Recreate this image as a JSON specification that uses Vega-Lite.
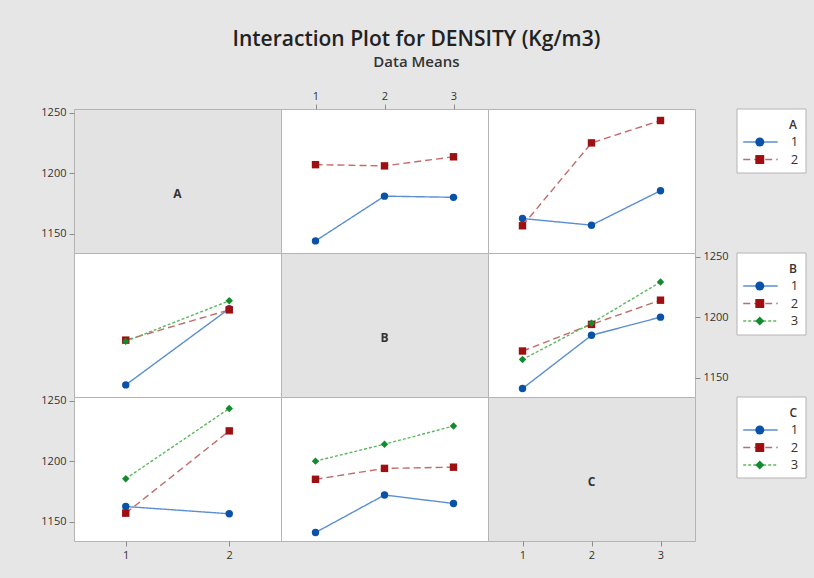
{
  "$schema": "https://vega.github.io/schema/vega-lite/v6.json",
  "background": "#e6e6e6",
  "padding": {"left": 40, "top": 28, "right": 9, "bottom": 18},
  "title": {
    "text": "Interaction Plot for DENSITY (Kg/m3)",
    "subtitle": "Data Means",
    "anchor": "middle",
    "font": "Open Sans",
    "fontSize": 21,
    "fontWeight": 600,
    "color": "#222222",
    "subtitleFont": "Open Sans",
    "subtitleFontSize": 15,
    "subtitleFontWeight": 600,
    "subtitleColor": "#333333",
    "subtitlePadding": 5,
    "offset": 20,
    "dx": -7
  },
  "config": {
    "view": {"stroke": "#b4b4b4", "fill": "white", "strokeWidth": 1},
    "axis": {
      "domain": false,
      "grid": false,
      "tickSize": 5,
      "tickColor": "#8c8c8c",
      "labelPadding": 3,
      "labelFont": "Open Sans",
      "labelFontSize": 11,
      "labelColor": "#333333",
      "title": null,
      "format": "d"
    },
    "text": {"font": "Open Sans"}
  },
  "datasets": {
    "means": [
      {"p": "AB", "t": "1", "x": 1, "y": 1144}, {"p": "AB", "t": "1", "x": 2, "y": 1181}, {"p": "AB", "t": "1", "x": 3, "y": 1180},
      {"p": "AB", "t": "2", "x": 1, "y": 1207}, {"p": "AB", "t": "2", "x": 2, "y": 1206}, {"p": "AB", "t": "2", "x": 3, "y": 1213.5},
      {"p": "AC", "t": "1", "x": 1, "y": 1162.5}, {"p": "AC", "t": "1", "x": 2, "y": 1157}, {"p": "AC", "t": "1", "x": 3, "y": 1185.5},
      {"p": "AC", "t": "2", "x": 1, "y": 1156.5}, {"p": "AC", "t": "2", "x": 2, "y": 1225}, {"p": "AC", "t": "2", "x": 3, "y": 1243.5},
      {"p": "BA", "t": "1", "x": 1, "y": 1144}, {"p": "BA", "t": "1", "x": 2, "y": 1207},
      {"p": "BA", "t": "2", "x": 1, "y": 1181}, {"p": "BA", "t": "2", "x": 2, "y": 1206},
      {"p": "BA", "t": "3", "x": 1, "y": 1180}, {"p": "BA", "t": "3", "x": 2, "y": 1213.5},
      {"p": "BC", "t": "1", "x": 1, "y": 1141}, {"p": "BC", "t": "1", "x": 2, "y": 1185}, {"p": "BC", "t": "1", "x": 3, "y": 1200},
      {"p": "BC", "t": "2", "x": 1, "y": 1172}, {"p": "BC", "t": "2", "x": 2, "y": 1194}, {"p": "BC", "t": "2", "x": 3, "y": 1214},
      {"p": "BC", "t": "3", "x": 1, "y": 1165}, {"p": "BC", "t": "3", "x": 2, "y": 1195}, {"p": "BC", "t": "3", "x": 3, "y": 1229},
      {"p": "CA", "t": "1", "x": 1, "y": 1162.5}, {"p": "CA", "t": "1", "x": 2, "y": 1156.5},
      {"p": "CA", "t": "2", "x": 1, "y": 1157}, {"p": "CA", "t": "2", "x": 2, "y": 1225},
      {"p": "CA", "t": "3", "x": 1, "y": 1185.5}, {"p": "CA", "t": "3", "x": 2, "y": 1243.5},
      {"p": "CB", "t": "1", "x": 1, "y": 1141}, {"p": "CB", "t": "1", "x": 2, "y": 1172}, {"p": "CB", "t": "1", "x": 3, "y": 1165},
      {"p": "CB", "t": "2", "x": 1, "y": 1185}, {"p": "CB", "t": "2", "x": 2, "y": 1194}, {"p": "CB", "t": "2", "x": 3, "y": 1195},
      {"p": "CB", "t": "3", "x": 1, "y": 1200}, {"p": "CB", "t": "3", "x": 2, "y": 1214}, {"p": "CB", "t": "3", "x": 3, "y": 1229}
    ],
    "legend": [
      {"g": "A", "t": "1", "pos": 1}, {"g": "A", "t": "2", "pos": 2},
      {"g": "B", "t": "1", "pos": 1}, {"g": "B", "t": "2", "pos": 2}, {"g": "B", "t": "3", "pos": 3},
      {"g": "C", "t": "1", "pos": 1}, {"g": "C", "t": "2", "pos": 2}, {"g": "C", "t": "3", "pos": 3}
    ]
  },
  "columns": 4,
  "spacing": 0,
  "align": "all",
  "bounds": "flush",
  "concat": [
    {
      "width": 207, "height": 144,
      "view": {"fill": "#e3e3e3"},
      "data": {"values": [{"label": "A"}]},
      "mark": {"type": "text", "fontWeight": "bold", "fontSize": 12, "color": "#333333"},
      "encoding": {
        "x": {"datum": 1.5, "type": "quantitative", "scale": {"domain": [0.5, 2.5], "nice": false}, "axis": null},
        "y": {"datum": 1183, "type": "quantitative", "scale": {"domain": [1134, 1253], "nice": false}, "axis": {"orient": "left", "values": [1150, 1200, 1250]}},
        "text": {"field": "label"}
      }
    },
    {
      "width": 207, "height": 144,
      "data": {"name": "means"},
      "transform": [{"filter": "datum.p === 'AB'"}],
      "encoding": {
        "x": {"field": "x", "type": "quantitative", "scale": {"domain": [0.5, 3.5], "nice": false}, "axis": {"orient": "top", "values": [1, 2, 3]}},
        "y": {"field": "y", "type": "quantitative", "scale": {"domain": [1134, 1253], "nice": false}, "axis": null}
      },
      "layer": [
        {"mark": {"type": "line", "strokeWidth": 1.4},
         "encoding": {
           "stroke": {"field": "t", "type": "nominal", "scale": {"domain": ["1", "2", "3"], "range": ["#5b8fd0", "#c46a6a", "#5cb85c"]}, "legend": null},
           "strokeDash": {"field": "t", "type": "nominal", "scale": {"domain": ["1", "2", "3"], "range": [[1, 0], [7, 4], [3, 2]]}, "legend": null}}},
        {"mark": {"type": "point", "filled": true, "size": 55, "opacity": 1},
         "encoding": {
           "fill": {"field": "t", "type": "nominal", "scale": {"domain": ["1", "2", "3"], "range": ["#0a52a8", "#9e0f12", "#138a2e"]}, "legend": null},
           "shape": {"field": "t", "type": "nominal", "scale": {"domain": ["1", "2", "3"], "range": ["circle", "square", "diamond"]}, "legend": null}}}
      ]
    },
    {
      "width": 207, "height": 144,
      "data": {"name": "means"},
      "transform": [{"filter": "datum.p === 'AC'"}],
      "encoding": {
        "x": {"field": "x", "type": "quantitative", "scale": {"domain": [0.5, 3.5], "nice": false}, "axis": null},
        "y": {"field": "y", "type": "quantitative", "scale": {"domain": [1134, 1253], "nice": false}, "axis": null}
      },
      "layer": [
        {"mark": {"type": "line", "strokeWidth": 1.4},
         "encoding": {
           "stroke": {"field": "t", "type": "nominal", "scale": {"domain": ["1", "2", "3"], "range": ["#5b8fd0", "#c46a6a", "#5cb85c"]}, "legend": null},
           "strokeDash": {"field": "t", "type": "nominal", "scale": {"domain": ["1", "2", "3"], "range": [[1, 0], [7, 4], [3, 2]]}, "legend": null}}},
        {"mark": {"type": "point", "filled": true, "size": 55, "opacity": 1},
         "encoding": {
           "fill": {"field": "t", "type": "nominal", "scale": {"domain": ["1", "2", "3"], "range": ["#0a52a8", "#9e0f12", "#138a2e"]}, "legend": null},
           "shape": {"field": "t", "type": "nominal", "scale": {"domain": ["1", "2", "3"], "range": ["circle", "square", "diamond"]}, "legend": null}}}
      ]
    },
    {
      "width": 111, "height": 64,
      "view": {"stroke": null, "fill": null},
      "encoding": {
        "x": {"type": "quantitative", "scale": {"domain": [-0.609, 1], "nice": false}, "axis": null},
        "y": {"type": "quantitative", "scale": {"domain": [-0.886, 2.77], "nice": false, "reverse": true}, "axis": null}
      },
      "layer": [
        {"data": {"values": [{}]}, "mark": {"type": "rect", "fill": "white", "stroke": "#b4b4b4", "strokeWidth": 1},
         "encoding": {"x": {"datum": 0, "type": "quantitative"}, "x2": {"datum": 1}, "y": {"datum": -0.886, "type": "quantitative"}, "y2": {"datum": 2.77}}},
        {"data": {"values": [{"label": "A"}]}, "mark": {"type": "text", "align": "right", "fontSize": 12, "fontWeight": 600, "color": "#333333"},
         "encoding": {"x": {"datum": 0.87, "type": "quantitative"}, "y": {"datum": 0, "type": "quantitative"}, "text": {"field": "label"}}},
        {"data": {"name": "legend"}, "transform": [{"filter": "datum.g === 'A'"}], "mark": {"type": "rule", "strokeWidth": 1.4},
         "encoding": {"x": {"datum": 0.09, "type": "quantitative"}, "x2": {"datum": 0.59}, "y": {"field": "pos", "type": "quantitative"},
           "stroke": {"field": "t", "type": "nominal", "scale": {"domain": ["1", "2", "3"], "range": ["#5b8fd0", "#c46a6a", "#5cb85c"]}, "legend": null},
           "strokeDash": {"field": "t", "type": "nominal", "scale": {"domain": ["1", "2", "3"], "range": [[1, 0], [7, 4], [3, 2]]}, "legend": null}}},
        {"data": {"name": "legend"}, "transform": [{"filter": "datum.g === 'A'"}], "mark": {"type": "point", "filled": true, "size": 80, "opacity": 1},
         "encoding": {"x": {"datum": 0.33, "type": "quantitative"}, "y": {"field": "pos", "type": "quantitative"},
           "fill": {"field": "t", "type": "nominal", "scale": {"domain": ["1", "2", "3"], "range": ["#0a52a8", "#9e0f12", "#138a2e"]}, "legend": null},
           "shape": {"field": "t", "type": "nominal", "scale": {"domain": ["1", "2", "3"], "range": ["circle", "square", "diamond"]}, "legend": null}}},
        {"data": {"name": "legend"}, "transform": [{"filter": "datum.g === 'A'"}], "mark": {"type": "text", "align": "left", "fontSize": 13, "color": "#333333"},
         "encoding": {"x": {"datum": 0.78, "type": "quantitative"}, "y": {"field": "pos", "type": "quantitative"}, "text": {"field": "t"}}}
      ]
    },
    {
      "width": 207, "height": 144,
      "data": {"name": "means"},
      "transform": [{"filter": "datum.p === 'BA'"}],
      "encoding": {
        "x": {"field": "x", "type": "quantitative", "scale": {"domain": [0.5, 2.5], "nice": false}, "axis": null},
        "y": {"field": "y", "type": "quantitative", "scale": {"domain": [1134, 1253], "nice": false}, "axis": null}
      },
      "layer": [
        {"mark": {"type": "line", "strokeWidth": 1.4},
         "encoding": {
           "stroke": {"field": "t", "type": "nominal", "scale": {"domain": ["1", "2", "3"], "range": ["#5b8fd0", "#c46a6a", "#5cb85c"]}, "legend": null},
           "strokeDash": {"field": "t", "type": "nominal", "scale": {"domain": ["1", "2", "3"], "range": [[1, 0], [7, 4], [3, 2]]}, "legend": null}}},
        {"mark": {"type": "point", "filled": true, "size": 55, "opacity": 1},
         "encoding": {
           "fill": {"field": "t", "type": "nominal", "scale": {"domain": ["1", "2", "3"], "range": ["#0a52a8", "#9e0f12", "#138a2e"]}, "legend": null},
           "shape": {"field": "t", "type": "nominal", "scale": {"domain": ["1", "2", "3"], "range": ["circle", "square", "diamond"]}, "legend": null}}}
      ]
    },
    {
      "width": 207, "height": 144,
      "view": {"fill": "#e3e3e3"},
      "data": {"values": [{"label": "B"}]},
      "mark": {"type": "text", "fontWeight": "bold", "fontSize": 12, "color": "#333333"},
      "encoding": {
        "x": {"datum": 2, "type": "quantitative", "scale": {"domain": [0.5, 3.5], "nice": false}, "axis": null},
        "y": {"datum": 1183, "type": "quantitative", "scale": {"domain": [1134, 1253], "nice": false}, "axis": null},
        "text": {"field": "label"}
      }
    },
    {
      "width": 207, "height": 144,
      "data": {"name": "means"},
      "transform": [{"filter": "datum.p === 'BC'"}],
      "encoding": {
        "x": {"field": "x", "type": "quantitative", "scale": {"domain": [0.5, 3.5], "nice": false}, "axis": null},
        "y": {"field": "y", "type": "quantitative", "scale": {"domain": [1134, 1253], "nice": false}, "axis": {"orient": "right", "values": [1150, 1200, 1250]}}
      },
      "layer": [
        {"mark": {"type": "line", "strokeWidth": 1.4},
         "encoding": {
           "stroke": {"field": "t", "type": "nominal", "scale": {"domain": ["1", "2", "3"], "range": ["#5b8fd0", "#c46a6a", "#5cb85c"]}, "legend": null},
           "strokeDash": {"field": "t", "type": "nominal", "scale": {"domain": ["1", "2", "3"], "range": [[1, 0], [7, 4], [3, 2]]}, "legend": null}}},
        {"mark": {"type": "point", "filled": true, "size": 55, "opacity": 1},
         "encoding": {
           "fill": {"field": "t", "type": "nominal", "scale": {"domain": ["1", "2", "3"], "range": ["#0a52a8", "#9e0f12", "#138a2e"]}, "legend": null},
           "shape": {"field": "t", "type": "nominal", "scale": {"domain": ["1", "2", "3"], "range": ["circle", "square", "diamond"]}, "legend": null}}}
      ]
    },
    {
      "width": 111, "height": 82,
      "view": {"stroke": null, "fill": null},
      "encoding": {
        "x": {"type": "quantitative", "scale": {"domain": [-0.609, 1], "nice": false}, "axis": null},
        "y": {"type": "quantitative", "scale": {"domain": [-0.886, 3.8], "nice": false, "reverse": true}, "axis": null}
      },
      "layer": [
        {"data": {"values": [{}]}, "mark": {"type": "rect", "fill": "white", "stroke": "#b4b4b4", "strokeWidth": 1},
         "encoding": {"x": {"datum": 0, "type": "quantitative"}, "x2": {"datum": 1}, "y": {"datum": -0.886, "type": "quantitative"}, "y2": {"datum": 3.8}}},
        {"data": {"values": [{"label": "B"}]}, "mark": {"type": "text", "align": "right", "fontSize": 12, "fontWeight": 600, "color": "#333333"},
         "encoding": {"x": {"datum": 0.87, "type": "quantitative"}, "y": {"datum": 0, "type": "quantitative"}, "text": {"field": "label"}}},
        {"data": {"name": "legend"}, "transform": [{"filter": "datum.g === 'B'"}], "mark": {"type": "rule", "strokeWidth": 1.4},
         "encoding": {"x": {"datum": 0.09, "type": "quantitative"}, "x2": {"datum": 0.59}, "y": {"field": "pos", "type": "quantitative"},
           "stroke": {"field": "t", "type": "nominal", "scale": {"domain": ["1", "2", "3"], "range": ["#5b8fd0", "#c46a6a", "#5cb85c"]}, "legend": null},
           "strokeDash": {"field": "t", "type": "nominal", "scale": {"domain": ["1", "2", "3"], "range": [[1, 0], [7, 4], [3, 2]]}, "legend": null}}},
        {"data": {"name": "legend"}, "transform": [{"filter": "datum.g === 'B'"}], "mark": {"type": "point", "filled": true, "size": 80, "opacity": 1},
         "encoding": {"x": {"datum": 0.33, "type": "quantitative"}, "y": {"field": "pos", "type": "quantitative"},
           "fill": {"field": "t", "type": "nominal", "scale": {"domain": ["1", "2", "3"], "range": ["#0a52a8", "#9e0f12", "#138a2e"]}, "legend": null},
           "shape": {"field": "t", "type": "nominal", "scale": {"domain": ["1", "2", "3"], "range": ["circle", "square", "diamond"]}, "legend": null}}},
        {"data": {"name": "legend"}, "transform": [{"filter": "datum.g === 'B'"}], "mark": {"type": "text", "align": "left", "fontSize": 13, "color": "#333333"},
         "encoding": {"x": {"datum": 0.78, "type": "quantitative"}, "y": {"field": "pos", "type": "quantitative"}, "text": {"field": "t"}}}
      ]
    },
    {
      "width": 207, "height": 144,
      "data": {"name": "means"},
      "transform": [{"filter": "datum.p === 'CA'"}],
      "encoding": {
        "x": {"field": "x", "type": "quantitative", "scale": {"domain": [0.5, 2.5], "nice": false}, "axis": {"orient": "bottom", "values": [1, 2]}},
        "y": {"field": "y", "type": "quantitative", "scale": {"domain": [1134, 1253], "nice": false}, "axis": {"orient": "left", "values": [1150, 1200, 1250]}}
      },
      "layer": [
        {"mark": {"type": "line", "strokeWidth": 1.4},
         "encoding": {
           "stroke": {"field": "t", "type": "nominal", "scale": {"domain": ["1", "2", "3"], "range": ["#5b8fd0", "#c46a6a", "#5cb85c"]}, "legend": null},
           "strokeDash": {"field": "t", "type": "nominal", "scale": {"domain": ["1", "2", "3"], "range": [[1, 0], [7, 4], [3, 2]]}, "legend": null}}},
        {"mark": {"type": "point", "filled": true, "size": 55, "opacity": 1},
         "encoding": {
           "fill": {"field": "t", "type": "nominal", "scale": {"domain": ["1", "2", "3"], "range": ["#0a52a8", "#9e0f12", "#138a2e"]}, "legend": null},
           "shape": {"field": "t", "type": "nominal", "scale": {"domain": ["1", "2", "3"], "range": ["circle", "square", "diamond"]}, "legend": null}}}
      ]
    },
    {
      "width": 207, "height": 144,
      "data": {"name": "means"},
      "transform": [{"filter": "datum.p === 'CB'"}],
      "encoding": {
        "x": {"field": "x", "type": "quantitative", "scale": {"domain": [0.5, 3.5], "nice": false}, "axis": null},
        "y": {"field": "y", "type": "quantitative", "scale": {"domain": [1134, 1253], "nice": false}, "axis": null}
      },
      "layer": [
        {"mark": {"type": "line", "strokeWidth": 1.4},
         "encoding": {
           "stroke": {"field": "t", "type": "nominal", "scale": {"domain": ["1", "2", "3"], "range": ["#5b8fd0", "#c46a6a", "#5cb85c"]}, "legend": null},
           "strokeDash": {"field": "t", "type": "nominal", "scale": {"domain": ["1", "2", "3"], "range": [[1, 0], [7, 4], [3, 2]]}, "legend": null}}},
        {"mark": {"type": "point", "filled": true, "size": 55, "opacity": 1},
         "encoding": {
           "fill": {"field": "t", "type": "nominal", "scale": {"domain": ["1", "2", "3"], "range": ["#0a52a8", "#9e0f12", "#138a2e"]}, "legend": null},
           "shape": {"field": "t", "type": "nominal", "scale": {"domain": ["1", "2", "3"], "range": ["circle", "square", "diamond"]}, "legend": null}}}
      ]
    },
    {
      "width": 207, "height": 144,
      "view": {"fill": "#e3e3e3"},
      "data": {"values": [{"label": "C"}]},
      "mark": {"type": "text", "fontWeight": "bold", "fontSize": 12, "color": "#333333"},
      "encoding": {
        "x": {"datum": 2, "type": "quantitative", "scale": {"domain": [0.5, 3.5], "nice": false}, "axis": {"orient": "bottom", "values": [1, 2, 3]}},
        "y": {"datum": 1183, "type": "quantitative", "scale": {"domain": [1134, 1253], "nice": false}, "axis": null},
        "text": {"field": "label"}
      }
    },
    {
      "width": 111, "height": 81,
      "view": {"stroke": null, "fill": null},
      "encoding": {
        "x": {"type": "quantitative", "scale": {"domain": [-0.609, 1], "nice": false}, "axis": null},
        "y": {"type": "quantitative", "scale": {"domain": [-0.886, 3.74], "nice": false, "reverse": true}, "axis": null}
      },
      "layer": [
        {"data": {"values": [{}]}, "mark": {"type": "rect", "fill": "white", "stroke": "#b4b4b4", "strokeWidth": 1},
         "encoding": {"x": {"datum": 0, "type": "quantitative"}, "x2": {"datum": 1}, "y": {"datum": -0.886, "type": "quantitative"}, "y2": {"datum": 3.74}}},
        {"data": {"values": [{"label": "C"}]}, "mark": {"type": "text", "align": "right", "fontSize": 12, "fontWeight": 600, "color": "#333333"},
         "encoding": {"x": {"datum": 0.87, "type": "quantitative"}, "y": {"datum": 0, "type": "quantitative"}, "text": {"field": "label"}}},
        {"data": {"name": "legend"}, "transform": [{"filter": "datum.g === 'C'"}], "mark": {"type": "rule", "strokeWidth": 1.4},
         "encoding": {"x": {"datum": 0.09, "type": "quantitative"}, "x2": {"datum": 0.59}, "y": {"field": "pos", "type": "quantitative"},
           "stroke": {"field": "t", "type": "nominal", "scale": {"domain": ["1", "2", "3"], "range": ["#5b8fd0", "#c46a6a", "#5cb85c"]}, "legend": null},
           "strokeDash": {"field": "t", "type": "nominal", "scale": {"domain": ["1", "2", "3"], "range": [[1, 0], [7, 4], [3, 2]]}, "legend": null}}},
        {"data": {"name": "legend"}, "transform": [{"filter": "datum.g === 'C'"}], "mark": {"type": "point", "filled": true, "size": 80, "opacity": 1},
         "encoding": {"x": {"datum": 0.33, "type": "quantitative"}, "y": {"field": "pos", "type": "quantitative"},
           "fill": {"field": "t", "type": "nominal", "scale": {"domain": ["1", "2", "3"], "range": ["#0a52a8", "#9e0f12", "#138a2e"]}, "legend": null},
           "shape": {"field": "t", "type": "nominal", "scale": {"domain": ["1", "2", "3"], "range": ["circle", "square", "diamond"]}, "legend": null}}},
        {"data": {"name": "legend"}, "transform": [{"filter": "datum.g === 'C'"}], "mark": {"type": "text", "align": "left", "fontSize": 13, "color": "#333333"},
         "encoding": {"x": {"datum": 0.78, "type": "quantitative"}, "y": {"field": "pos", "type": "quantitative"}, "text": {"field": "t"}}}
      ]
    }
  ]
}
